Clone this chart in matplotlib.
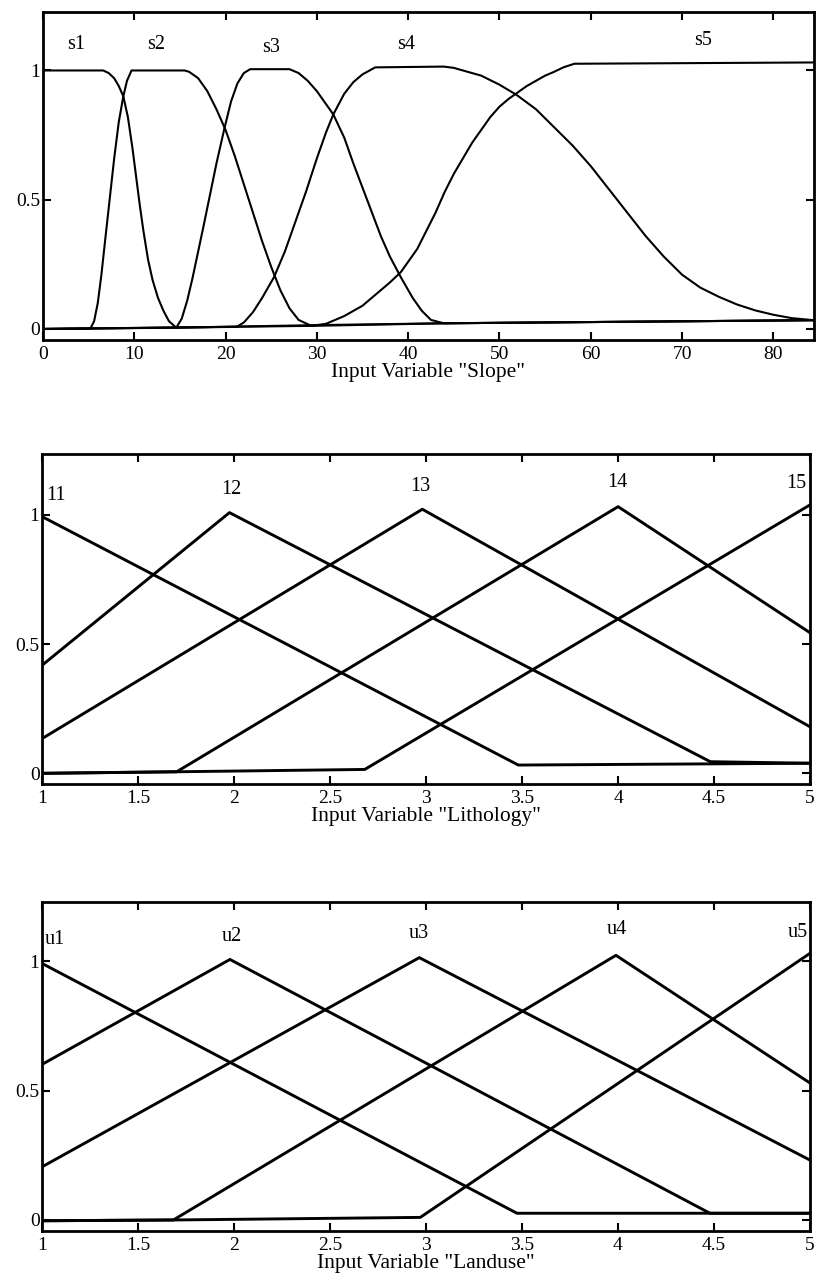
import matplotlib
matplotlib.use('Agg')
import matplotlib.pyplot as plt

plt.rcParams['font.family'] = ['Liberation Serif', 'DejaVu Serif']

# ---- data ----
# Slope membership functions (x in degrees, y membership)
s1_x = [0, 6.6, 7.2, 7.8, 8.3, 8.8, 9.3, 9.8, 10.2, 10.6, 11.0, 11.5, 12.0, 12.6, 13.2, 13.8, 14.6, 30, 44, 84.4]
s1_y = [1.0, 1.0, 0.99, 0.97, 0.94, 0.9, 0.82, 0.7, 0.59, 0.48, 0.38, 0.27, 0.19, 0.12, 0.07, 0.03, 0.005, 0.015, 0.022, 0.034]

s2_x = [0, 5.2, 5.6, 6.0, 6.4, 6.8, 7.3, 7.8, 8.3, 8.8, 9.2, 9.7, 15.5, 16.0, 17.0, 18.0, 19.0, 20.0, 21.0,
        22.0, 23.0, 24.0, 25.0, 26.0, 27.0, 28.0, 29.4, 44, 84.4]
s2_y = [0.0, 0.002, 0.03, 0.1, 0.21, 0.34, 0.5, 0.66, 0.8, 0.9, 0.96, 1.0, 1.0, 0.995, 0.97, 0.92, 0.85, 0.77, 0.67,
        0.56, 0.45, 0.34, 0.24, 0.15, 0.08, 0.035, 0.012, 0.022, 0.034]

s3_x = [0, 14.6, 15.2, 15.8, 16.4, 17.0, 17.6, 18.3, 19.0, 19.9, 20.6, 21.3, 22.0, 22.7, 27.0, 28.0, 29.0, 30.0,
        31.0, 31.8, 33.0, 34.0, 35.5, 37.0, 38.0, 39.2, 40.5, 41.5, 42.5, 43.9, 84.4]
s3_y = [0.0, 0.005, 0.04, 0.11, 0.2, 0.3, 0.4, 0.52, 0.64, 0.78, 0.88, 0.95, 0.99, 1.005, 1.005, 0.99, 0.96, 0.92,
        0.87, 0.83, 0.74, 0.64, 0.5, 0.36, 0.28, 0.2, 0.12, 0.07, 0.035, 0.022, 0.034]

s4_x = [0, 21.2, 22.0, 23.0, 24.0, 25.3, 26.5, 27.5, 28.8, 30.0, 31.0, 31.8, 33.0, 34.0, 35.0, 36.4, 43.9, 45.0,
        46.0, 48.0, 50.0, 51.9, 54.0, 56.0, 58.0, 60.0, 62.0, 64.0, 66.0, 68.0, 70.0, 72.0, 74.0, 76.0, 78.0,
        80.0, 82.0, 84.4]
s4_y = [0.0, 0.008, 0.025, 0.065, 0.12, 0.2, 0.3, 0.4, 0.53, 0.66, 0.76, 0.83, 0.91, 0.955, 0.985, 1.012, 1.015, 1.01,
        1.0, 0.98, 0.945, 0.905, 0.85, 0.78, 0.71, 0.63, 0.54, 0.45, 0.36, 0.28, 0.21, 0.16, 0.125, 0.095, 0.072,
        0.055, 0.042, 0.034]

s5_x = [0, 29.4, 31.0, 33.0, 35.0, 37.0, 38.0, 39.2, 40.0, 41.0, 42.0, 43.0, 44.0, 45.0, 46.0, 47.0, 48.0, 49.0,
        50.0, 51.0, 52.0, 53.0, 54.0, 55.0, 56.0, 57.0, 58.2, 84.4]
s5_y = [0.0, 0.012, 0.02, 0.05, 0.09, 0.15, 0.18, 0.22, 0.26, 0.31, 0.38, 0.45, 0.53, 0.6, 0.66, 0.72, 0.77, 0.82,
        0.86, 0.89, 0.915, 0.94, 0.96, 0.98, 0.995, 1.012, 1.026, 1.031]

slope_names = ['s1', 's2', 's3', 's4', 's5']
slope_label_x = [3.6, 12.4, 25.0, 39.8, 72.3]
slope_label_y = [1.10, 1.10, 1.088, 1.10, 1.115]
slope_ticks = [0, 10, 20, 30, 40, 50, 60, 70, 80]

# Lithology membership functions (triangles)
l1_x = [1, 3.48, 5]
l1_y = [0.993, 0.032, 0.039]
l2_x = [1, 1.975, 4.48, 5]
l2_y = [0.419, 1.009, 0.045, 0.039]
l3_x = [1, 2.98, 5]
l3_y = [0.135, 1.022, 0.18]
l4_x = [1, 1.70, 4.0, 5]
l4_y = [0.0, 0.006, 1.032, 0.544]
l5_x = [1, 1.70, 2.68, 5]
l5_y = [0.0, 0.006, 0.015, 1.039]

litho_names = ['11', '12', '13', '14', '15']
litho_label_x = [1.071, 1.987, 2.97, 3.995, 4.93]
litho_label_y = [1.074, 1.097, 1.11, 1.127, 1.123]

# Landuse membership functions
u1_x = [1, 3.474, 5]
u1_y = [0.991, 0.026, 0.026]
u2_x = [1, 1.978, 4.48, 5]
u2_y = [0.602, 1.007, 0.026, 0.026]
u3_x = [1, 2.965, 5]
u3_y = [0.206, 1.014, 0.232]
u4_x = [1, 1.683, 3.99, 5]
u4_y = [-0.003, 0.0, 1.023, 0.53]
u5_x = [1, 1.683, 2.97, 5]
u5_y = [-0.003, 0.0, 0.01, 1.03]

land_names = ['u1', 'u2', 'u3', 'u4', 'u5']
land_label_x = [1.066, 1.987, 2.96, 3.995, 4.94]
land_label_y = [1.084, 1.094, 1.109, 1.122, 1.113]

half_ticks = [1, 1.5, 2, 2.5, 3, 3.5, 4, 4.5, 5]
half_tick_labels = ['1', '1.5', '2', '2.5', '3', '3.5', '4', '4.5', '5']

y_ticks = [0, 0.5, 1]
y_tick_labels = ['0', '0.5', '1']


def style_axes(ax, xticks, xticklabels, xlabel):
    """MATLAB-ish boxed axes with inward ticks on all sides"""
    for sp in ax.spines.values():
        sp.set_linewidth(2.0)
    ax.set_xticks(xticks)
    ax.set_xticklabels(xticklabels)
    ax.set_yticks(y_ticks)
    ax.set_yticklabels(y_tick_labels)
    ax.tick_params(axis='both', direction='in', top=True, right=True,
                   length=5.5, width=1.5, labelsize=14)
    ax.tick_params(axis='x', pad=4)
    ax.tick_params(axis='y', pad=2)
    ax.set_xlabel(xlabel, fontsize=15.5, labelpad=0)


fig = plt.figure(figsize=(8.17, 12.82), dpi=100)

# top: slope
ax1 = fig.add_axes([0.0526, 0.7348, 0.9437, 0.2556])
for xs, ys in [(s1_x, s1_y), (s2_x, s2_y), (s3_x, s3_y), (s4_x, s4_y), (s5_x, s5_y)]:
    ax1.plot(xs, ys, color='black', lw=1.5)
for name, lx, ly in zip(slope_names, slope_label_x, slope_label_y):
    ax1.text(lx, ly, name, ha='center', va='center', fontsize=14.5)
ax1.set_xlim(0, 84.45)
ax1.set_ylim(-0.0426, 1.225)
style_axes(ax1, slope_ticks, [str(t) for t in slope_ticks], 'Input Variable "Slope"')

# middle: lithology
ax2 = fig.add_axes([0.0518, 0.3882, 0.9397, 0.2577])
for xs, ys in [(l1_x, l1_y), (l2_x, l2_y), (l3_x, l3_y), (l4_x, l4_y), (l5_x, l5_y)]:
    ax2.plot(xs, ys, color='black', lw=2.1)
for name, lx, ly in zip(litho_names, litho_label_x, litho_label_y):
    ax2.text(lx, ly, name, ha='center', va='center', fontsize=14.5)
ax2.set_xlim(1, 5)
ax2.set_ylim(-0.0426, 1.236)
style_axes(ax2, half_ticks, half_tick_labels, 'Input Variable "Lithology"')

# bottom: landuse
ax3 = fig.add_axes([0.0518, 0.0398, 0.9393, 0.2566])
for xs, ys in [(u1_x, u1_y), (u2_x, u2_y), (u3_x, u3_y), (u4_x, u4_y), (u5_x, u5_y)]:
    ax3.plot(xs, ys, color='black', lw=2.1)
for name, lx, ly in zip(land_names, land_label_x, land_label_y):
    ax3.text(lx, ly, name, ha='center', va='center', fontsize=14.5)
ax3.set_xlim(1, 5)
ax3.set_ylim(-0.0425, 1.229)
style_axes(ax3, half_ticks, half_tick_labels, 'Input Variable "Landuse"')

plt.savefig('out.png', dpi=100)
plt.close()
